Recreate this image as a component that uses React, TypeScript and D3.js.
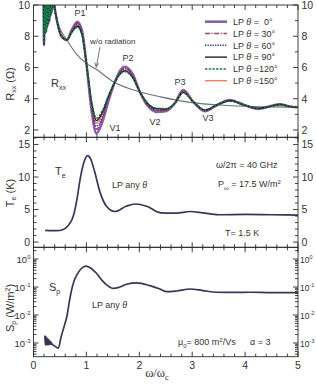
import React from 'react';
import * as d3 from 'd3';

// ---------- data ----------
const xTickLabels = ['0', '1', '2', '3', '4', '5'];

// R_xx: jagged start (shared by all series)
const rJagX = [0.19, 0.2, 0.21, 0.22, 0.23, 0.24, 0.25, 0.26, 0.27, 0.28, 0.29, 0.30, 0.31, 0.32, 0.33, 0.34, 0.35, 0.36, 0.37];
const rJagY = [10.6, 7.45, 10.6, 8.2, 10.6, 8.3, 10.6, 8.6, 10.6, 8.8, 10.6, 9.0, 10.6, 9.3, 10.6, 9.5, 10.6, 9.8, 10.6];

const rX = [0.38, 0.45, 0.53, 0.63, 0.73, 0.83, 0.92, 1.00, 1.10, 1.19, 1.30, 1.42, 1.54, 1.64, 1.73, 1.87, 2.01, 2.17, 2.33, 2.50, 2.67, 2.83, 3.02, 3.24, 3.47, 3.71, 3.98, 4.25, 4.46, 4.66, 4.85, 5.00];
const r0 = [10.3, 8.9, 8.0, 7.76, 8.45, 8.93, 8.30, 6.26, 3.20, 1.78, 2.50, 3.90, 5.08, 5.80, 6.05, 5.60, 4.44, 3.50, 3.16, 3.20, 3.70, 4.55, 3.80, 3.20, 3.60, 3.92, 3.60, 3.35, 3.50, 3.65, 3.50, 3.45];
const r30 = [10.3, 8.9, 8.0, 7.76, 8.40, 8.84, 8.22, 6.26, 3.38, 2.04, 2.70, 3.99, 5.08, 5.74, 5.96, 5.53, 4.44, 3.55, 3.22, 3.25, 3.70, 4.50, 3.80, 3.22, 3.60, 3.90, 3.60, 3.36, 3.50, 3.64, 3.50, 3.45];
const r60 = [10.3, 8.9, 8.0, 7.76, 8.36, 8.77, 8.17, 6.26, 3.50, 2.23, 2.84, 4.06, 5.08, 5.69, 5.90, 5.48, 4.44, 3.58, 3.27, 3.28, 3.70, 4.47, 3.80, 3.24, 3.60, 3.89, 3.60, 3.37, 3.50, 3.64, 3.50, 3.45];
const r90 = [10.3, 8.9, 8.0, 7.76, 8.29, 8.64, 8.06, 6.26, 3.75, 2.60, 3.12, 4.19, 5.08, 5.60, 5.78, 5.38, 4.44, 3.65, 3.36, 3.34, 3.70, 4.41, 3.80, 3.28, 3.60, 3.87, 3.60, 3.38, 3.50, 3.63, 3.50, 3.45];
const r120 = [10.3, 8.9, 8.0, 7.76, 8.26, 8.58, 8.01, 6.26, 3.85, 2.75, 3.23, 4.24, 5.08, 5.57, 5.73, 5.34, 4.44, 3.68, 3.39, 3.37, 3.70, 4.38, 3.80, 3.29, 3.60, 3.86, 3.60, 3.39, 3.50, 3.62, 3.50, 3.45];
const r150 = [10.3, 8.9, 8.0, 7.76, 8.32, 8.69, 8.10, 6.26, 3.65, 2.45, 3.00, 4.13, 5.08, 5.64, 5.83, 5.42, 4.44, 3.63, 3.32, 3.32, 3.70, 4.43, 3.80, 3.26, 3.60, 3.88, 3.60, 3.38, 3.50, 3.63, 3.50, 3.45];

// w/o radiation
const gX = [0.3, 0.4, 0.5, 0.63, 0.8, 1.0, 1.2, 1.5, 2.0, 2.4, 3.0, 3.5, 4.0, 4.5, 5.0];
const gY = [11.5, 9.6, 8.5, 7.76, 6.9, 6.26, 5.85, 5.1, 4.45, 4.12, 3.75, 3.6, 3.52, 3.48, 3.45];

// T_e
const tX = [0.22, 0.35, 0.5, 0.6, 0.68, 0.75, 0.82, 0.88, 0.95, 1.02, 1.08, 1.15, 1.26, 1.38, 1.54, 1.75, 1.92, 2.14, 2.4, 2.7, 2.96, 3.2, 3.5, 4.0, 4.5, 5.0];
const tY = [1.8, 1.75, 1.78, 2.1, 2.8, 3.95, 6.5, 9.6, 12.2, 13.3, 12.8, 11.0, 7.6, 5.5, 4.7, 5.5, 5.85, 5.5, 4.5, 4.45, 4.7, 4.5, 4.2, 4.25, 4.2, 4.15];

// S_p
const sX = [0.215, 0.225, 0.235, 0.245, 0.255, 0.265, 0.275, 0.285, 0.295, 0.305, 0.315, 0.325, 0.335, 0.35, 0.40, 0.47, 0.52, 0.58, 0.63, 0.68, 0.72, 0.77, 0.82, 0.90, 0.99, 1.08, 1.19, 1.30, 1.39, 1.51, 1.62, 1.76, 1.95, 2.20, 2.39, 2.52, 2.70, 2.96, 3.20, 3.46, 3.80, 4.09, 4.50, 5.00];
const sY = [1.86e-3, 8.5e-4, 1.66e-3, 8.5e-4, 1.51e-3, 8.7e-4, 1.38e-3, 8.7e-4, 1.26e-3, 8.9e-4, 1.15e-3, 8.9e-4, 1.05e-3, 9.1e-4, 7.9e-4, 6.5e-4, 1.6e-3, 4.0e-3, 8.7e-3, 3.2e-2, 7.8e-2, 0.17, 0.27, 0.45, 0.56, 0.48, 0.31, 0.17, 0.117, 0.089, 0.098, 0.126, 0.141, 0.112, 0.085, 0.068, 0.072, 0.085, 0.075, 0.065, 0.064, 0.065, 0.063, 0.063];

const seriesNames = ['LP \u03B8 =  0\u00B0', 'LP \u03B8 = 30\u00B0', 'LP \u03B8 = 60\u00B0', 'LP \u03B8 = 90\u00B0', 'LP \u03B8 =120\u00B0', 'LP \u03B8 =150\u00B0'];
const seriesAngles = ['  0', ' 30', ' 60', ' 90', '120', '150'];
const seriesValues = [r0, r30, r60, r90, r120, r150];
const seriesColors = ['#8462ad', '#a23d6e', '#40318a', '#111111', '#177a4a', '#f47d5d'];
const seriesWidths = [2.6, 1.6, 1.4, 1.3, 1.5, 1.4];
const seriesDash = ['', '5,1.5,1.2,1.5', '1.3,1.2', '', '2.4,1.3', ''];
const drawOrder = [0, 1, 5, 2, 3, 4];

// ---------- layout ----------
const W = 316, H = 385;
const X0 = 33.5, X1 = 298;
const P1T = 5, P1B = 137.3, P2B = 247.3, P3B = 356.7;
const FONT = 'Liberation Sans, Arial, Helvetica, sans-serif';
const TXT = '#333';
const AX = '#2a2a2a';

export default function App() {
  const x = d3.scaleLinear().domain([0, 5]).range([X0, X1]);
  const yR = d3.scaleLinear().domain([1.53, 10]).range([P1B, P1T]);
  const yT = d3.scaleLinear().domain([-0.8, 16.1]).range([P2B, P1B]);
  const yS = d3.scaleLog().domain([3.24e-4, 2.63]).range([P3B, P2B]);

  const rLine = d3.line<[number, number]>().x(d => x(d[0])).y(d => yR(d[1])).curve(d3.curveMonotoneX);
  const tLine = d3.line<[number, number]>().x(d => x(d[0])).y(d => yT(d[1])).curve(d3.curveMonotoneX);
  const sLine = d3.line<[number, number]>().x(d => x(d[0])).y(d => yS(d[1])).curve(d3.curveMonotoneX);

  const rSeries = seriesValues.map(vals => {
    const pts: [number, number][] = rJagX.map((v, i) => [v, rJagY[i]] as [number, number]);
    rX.forEach((v, i) => pts.push([v, vals[i]]));
    return pts;
  });
  const gPts: [number, number][] = gX.map((v, i) => [v, gY[i]]);
  const tPts: [number, number][] = tX.map((v, i) => [v, tY[i]]);
  const sPts: [number, number][] = sX.map((v, i) => [v, sY[i]]);

  const xMajor = d3.range(0, 5.001, 1);
  const xMinor = d3.range(0, 5.001, 0.2).filter(v => Math.abs(v - Math.round(v)) > 1e-6);

  const panels = [
    { top: P1T, bottom: P1B },
    { top: P1B, bottom: P2B },
    { top: P2B, bottom: P3B },
  ];

  const rMajor = [2, 4, 6, 8, 10];
  const rMinor = [3, 5, 7, 9];
  const tMajor = [0, 5, 10, 15];
  const tMinor = d3.range(0, 16.01, 1).filter(v => v % 5 !== 0);
  const sMajor = [1e-3, 1e-2, 1e-1, 1];
  const sMinor: number[] = [];
  [-4, -3, -2, -1, 0].forEach(e => {
    for (let m = 2; m <= 9; m++) {
      const v = m * Math.pow(10, e);
      if (v >= 3.24e-4 && v <= 2.63) sMinor.push(v);
    }
  });

  const MJ = 5, MN = 3;
  const tickLines: JSX.Element[] = [];
  let k = 0;
  panels.forEach(p => {
    xMajor.forEach(v => {
      tickLines.push(<line key={k++} x1={x(v)} x2={x(v)} y1={p.bottom} y2={p.bottom - MJ} />);
      tickLines.push(<line key={k++} x1={x(v)} x2={x(v)} y1={p.top} y2={p.top + MJ} />);
    });
    xMinor.forEach(v => {
      tickLines.push(<line key={k++} x1={x(v)} x2={x(v)} y1={p.bottom} y2={p.bottom - MN} />);
      tickLines.push(<line key={k++} x1={x(v)} x2={x(v)} y1={p.top} y2={p.top + MN} />);
    });
  });
  const yTicks = (vals: number[], sc: (v: number) => number, len: number) => {
    vals.forEach(v => {
      const yy = sc(v);
      tickLines.push(<line key={k++} x1={X0} x2={X0 + len} y1={yy} y2={yy} />);
      tickLines.push(<line key={k++} x1={X1} x2={X1 - len} y1={yy} y2={yy} />);
    });
  };
  yTicks(rMajor, yR, MJ); yTicks(rMinor, yR, MN);
  yTicks(tMajor, yT, MJ); yTicks(tMinor, yT, MN);
  yTicks(sMajor, yS, MJ); yTicks(sMinor, yS, MN);

  const fs = 10.5;
  const yLabels: JSX.Element[] = [];
  rMajor.forEach(v => {
    yLabels.push(<text key={'rl' + v} x={X0 - 3.5} y={yR(v) + 3.8} textAnchor="end">{v}</text>);
    yLabels.push(<text key={'rr' + v} x={X1 + 3.5} y={yR(v) + 3.8}>{v}</text>);
  });
  tMajor.forEach(v => {
    yLabels.push(<text key={'tl' + v} x={X0 - 3.5} y={yT(v) + 3.8} textAnchor="end">{v}</text>);
    yLabels.push(<text key={'tr' + v} x={X1 + 3.5} y={yT(v) + 3.8}>{v}</text>);
  });
  sMajor.forEach(v => {
    const e = Math.round(Math.log10(v));
    yLabels.push(
      <text key={'sl' + v} x={X0 - 3} y={yS(v) + 3.5} textAnchor="end" fontSize={9.5}>
        10<tspan dy={-4} fontSize={6}>{e}</tspan>
      </text>
    );
    yLabels.push(
      <text key={'sr' + v} x={X1 + 2} y={yS(v) + 3.5} fontSize={8.5}>
        10<tspan dy={-3.5} fontSize={5.5}>{e}</tspan>
      </text>
    );
  });

  return (
    <svg width={W} height={H} style={{ position: 'absolute', left: 0, top: 0, background: '#fff' }} fontFamily={FONT}>
      <defs>
        <clipPath id="c1"><rect x={X0} y={P1T} width={X1 - X0} height={P1B - P1T} /></clipPath>
        <clipPath id="c2"><rect x={X0} y={P1B} width={X1 - X0} height={P2B - P1B} /></clipPath>
        <clipPath id="c3"><rect x={X0} y={P2B} width={X1 - X0} height={P3B - P2B} /></clipPath>
      </defs>
      <rect x={0} y={0} width={W} height={H} fill="#fff" />

      {/* top panel curves */}
      <g clipPath="url(#c1)" fill="none">
        <path d={rLine(gPts) || ''} stroke="#707070" strokeWidth={1.1} />
        {drawOrder.map(i => (
          <path key={i} d={rLine(rSeries[i]) || ''} stroke={seriesColors[i]} strokeWidth={seriesWidths[i]}
            strokeDasharray={seriesDash[i] || undefined} strokeLinejoin="round" />
        ))}
      </g>
      {/* middle */}
      <g clipPath="url(#c2)" fill="none">
        <path d={tLine(tPts) || ''} stroke="#3b3456" strokeWidth={1.7} />
      </g>
      {/* bottom */}
      <g clipPath="url(#c3)" fill="none">
        <path d={sLine(sPts) || ''} stroke="#3b3456" strokeWidth={1.7} strokeLinejoin="round" />
      </g>

      {/* frames and ticks */}
      <g stroke={AX} strokeWidth={0.9} fill="none">
        {panels.map((p, i) => (
          <rect key={i} x={X0} y={p.top} width={X1 - X0} height={p.bottom - p.top} />
        ))}
        {tickLines}
      </g>

      <g fontSize={fs} fill={TXT}>
        {yLabels}
        {xMajor.map((v, i) => (
          <text key={i} x={x(v)} y={369} textAnchor="middle">{xTickLabels[i]}</text>
        ))}
      </g>

      {/* axis titles */}
      <text x={157} y={377} textAnchor="middle" fontSize={12.5} fill={TXT} fontFamily="Liberation Serif, Times New Roman, serif">
        ω/ω<tspan dy={3} fontSize={8.5}>c</tspan>
      </text>
      <text transform="translate(13.5,84) rotate(-90)" textAnchor="middle" fontSize={11} fill={TXT}>
        R<tspan dy={2.5} fontSize={7}>xx</tspan><tspan dy={-2.5}> (Ω)</tspan>
      </text>
      <text transform="translate(13.5,193) rotate(-90)" textAnchor="middle" fontSize={11} fill={TXT}>
        T<tspan dy={2.5} fontSize={7}>e</tspan><tspan dy={-2.5}> (K)</tspan>
      </text>
      <text transform="translate(13.5,308) rotate(-90)" textAnchor="middle" fontSize={11} fill={TXT}>
        S<tspan dy={2.5} fontSize={7}>p</tspan><tspan dy={-2.5}> (W/m</tspan><tspan dy={-4} fontSize={7}>2</tspan><tspan dy={4}>)</tspan>
      </text>

      {/* annotations top */}
      <g fontSize={9} fill={TXT}>
        <text x={80} y={16} textAnchor="middle">P1</text>
        <text x={128} y={61} textAnchor="middle">P2</text>
        <text x={180} y={85} textAnchor="middle">P3</text>
        <text x={115} y={131} textAnchor="middle">V1</text>
        <text x={155} y={125} textAnchor="middle">V2</text>
        <text x={208} y={121} textAnchor="middle">V3</text>
        <text x={90} y={44} fontSize={8}>w/o radiation</text>
        <text x={51} y={87} fontSize={11}>R<tspan dy={2.5} fontSize={7}>xx</tspan></text>
      </g>
      <g stroke="#555" strokeWidth={0.8} fill="none">
        <line x1={100} y1={47} x2={96.5} y2={66} />
        <path d="M94.6,62.5 L96.3,67.5 L98.4,63" />
      </g>

      {/* legend */}
      <g fontSize={9} fill={TXT}>
        {seriesNames.map((n, i) => {
          const yy = 21.7 + i * 11.8;
          return (
            <g key={i}>
              <line x1={205} x2={227} y1={yy} y2={yy} stroke={seriesColors[i]} strokeWidth={seriesWidths[i]}
                strokeDasharray={seriesDash[i] || undefined} />
              <text x={233} y={yy + 3.2} style={{ whiteSpace: 'pre' }}>
                LP <tspan fontStyle="italic">θ</tspan>{' ='}{seriesAngles[i]}°
              </text>
            </g>
          );
        })}
      </g>

      {/* middle annotations */}
      <g fontSize={9} fill={TXT}>
        <text x={55} y={175} fontSize={11}>T<tspan dy={2.5} fontSize={7}>e</tspan></text>
        <text x={112} y={188}>LP any <tspan fontStyle="italic">θ</tspan></text>
        <text x={216} y={168}>ω/2π = 40 GHz</text>
        <text x={218} y={187}>P<tspan dy={2.5} fontSize={6}>ω</tspan><tspan dy={-2.5}> = 17.5 W/m</tspan><tspan dy={-3.5} fontSize={6}>2</tspan></text>
        <text x={225} y={236}>T= 1.5 K</text>
      </g>

      {/* bottom annotations */}
      <g fontSize={9} fill={TXT}>
        <text x={49} y={291} fontSize={11}>S<tspan dy={2.5} fontSize={7}>p</tspan></text>
        <text x={92} y={308}>LP any <tspan fontStyle="italic">θ</tspan></text>
        <text x={178} y={345}>μ<tspan dy={2.5} fontSize={6}>0</tspan><tspan dy={-2.5}>= 800 m</tspan><tspan dy={-3.5} fontSize={6}>2</tspan><tspan dy={3.5}>/Vs</tspan></text>
        <text x={250} y={345}>α = 3</text>
      </g>
    </svg>
  );
}
